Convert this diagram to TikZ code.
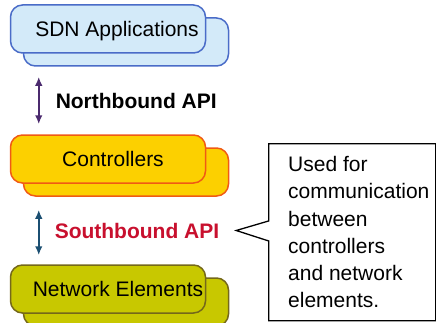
\documentclass[tikz,border=0pt]{standalone}
\usepackage{fontspec}
\setmainfont{Liberation Sans}
\usepackage{tikz}
\usetikzlibrary{arrows.meta,positioning,shapes.callouts,backgrounds}
\definecolor{AppFill}{HTML}{D3EAF9}
\definecolor{AppLine}{HTML}{4A6CC8}
\definecolor{CtlFill}{HTML}{FCD000}
\definecolor{CtlLine}{HTML}{F05A14}
\definecolor{NetFill}{HTML}{C8C800}
\definecolor{NetLine}{HTML}{75681A}
\definecolor{NorthPurple}{HTML}{4B2A6E}
\definecolor{SouthBlue}{HTML}{1B4F72}
\definecolor{SouthRed}{HTML}{C8102E}
\tikzset{
  BX/.style={rectangle,rounded corners=12pt,
             minimum width=195pt,minimum height=48pt,
             draw,line width=1.5pt,inner sep=0pt},
  bA/.style={BX,fill=AppFill,draw=AppLine},
  bC/.style={BX,fill=CtlFill,draw=CtlLine},
  bN/.style={BX,fill=NetFill,draw=NetLine},
  BK/.style={minimum width=205pt},
  TX/.style={font=\fontsize{21}{27.2}\selectfont,inner sep=0pt,
             text height=15pt,text depth=0pt},
  LB/.style={font=\fontsize{21}{25}\selectfont\bfseries,inner sep=0pt},
  arr/.style={{Latex[length=9pt,width=7.5pt]}-{Latex[length=9pt,width=7.5pt]},line width=2pt},
  NT/.style={rectangle callout,draw,fill=white,line width=1.3pt,
             minimum width=167pt,minimum height=177pt,
             callout pointer width=20pt}
}
\begin{document}
\begin{tikzpicture}[x=1pt,y=1pt,node distance=80.5pt]
  \useasboundingbox (0,0) rectangle (436,322);

  \node[bA] (apps) at (108,293) {};
  \node[bC,below=of apps] (ctl) {};
  \node[bN,below=of ctl] (net) {};

  \begin{scope}[on background layer]
    \node[bA,BK] (appsBack) at ([shift={(18pt,-13pt)}]apps.center) {};
    \node[bC,BK] (ctlBack) at ([shift={(18pt,-13pt)}]ctl.center) {};
    \node[bN,BK] (netBack) at ([shift={(18pt,-13pt)}]net.center) {};
  \end{scope}

  \node[TX] (appsTxt) at ([xshift=9pt]apps.center) {SDN Applications};
  \node[TX] (ctlTxt) at ([xshift=5pt]ctl.center) {Controllers};
  \node[TX] (netTxt) at ([xshift=10pt]net.center) {Network Elements};

  \draw[arr,NorthPurple,shorten <=10pt,shorten >=10pt]
    ([xshift=16pt]appsBack.south west) -- ([xshift=16pt]appsBack.south west |- ctl.north)
    node[LB,midway,right=16pt,text=black] (nbLbl) {Northbound API};
  \draw[arr,SouthBlue,shorten <=13pt,shorten >=9pt]
    ([xshift=16pt]ctlBack.south west) -- ([xshift=16pt]ctlBack.south west |- net.north)
    node[LB,midway,right=15pt,text=SouthRed] (sbLbl) {Southbound API};

  \coordinate (tip) at ([xshift=16pt]sbLbl.east);
  \node[NT,callout absolute pointer={(tip)},anchor=north west] (note) at (268,179) {};
  \node[TX,text height=,text depth=,align=left,anchor=west] (noteTxt) at ([xshift=20pt]note.west)
    {Used for\\communication\\between\\controllers\\and network\\elements.};
\end{tikzpicture}
\end{document}
